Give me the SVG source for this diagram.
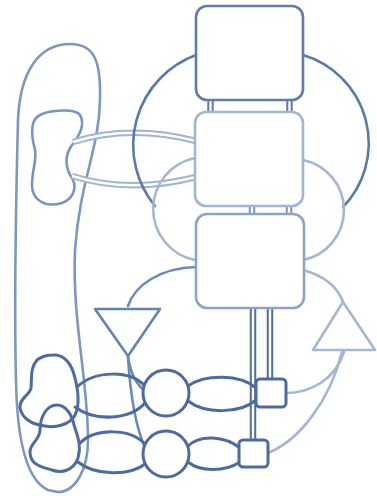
<svg xmlns="http://www.w3.org/2000/svg" width="377" height="496" viewBox="0 0 377 496">
<style>
.n{fill:none;stroke-linejoin:round;stroke-linecap:round}
.box{fill:#fff;stroke-width:2.6}
.e{fill:none;stroke-width:2.6;stroke-linecap:round}
.dk{stroke:#4c6ca1;stroke-width:3}
.dbl{fill:none;stroke-width:6.5}
.gap{fill:none;stroke:#fff;stroke-width:2.4}
</style>
<rect width="377" height="496" fill="#fff"/>
<g id="tall"><path class="n" stroke="#7d97c3" stroke-width="2.6" d="M70,44 C95,44 101,62 100,100 C99,150 80,180 75,250 C72,320 88,380 88,440 C88,470 75,492 58,492 L48,490 C26,480 17,440 16,380 C14,300 16,200 18,120 C20,70 40,44 70,44 Z"/></g>
<g id="smallblob"><path class="n" stroke="#7893c1" stroke-width="2.6" d="M40,115 C50,110 75,108 80,115 C86,125 78,138 72,145 C65,155 65,165 70,175 C78,185 75,198 62,203 C45,208 32,200 32,185 C32,170 37,160 35,150 C31,135 30,120 40,115 Z"/></g>
<g id="connectors">
<path class="dbl" stroke="#9fb3d2" d="M73,142 Q130,124 196,141"/><path class="gap" d="M73,142 Q130,124 196,141"/>
<path class="dbl" stroke="#9fb3d2" d="M72,176 Q130,194 196,177"/><path class="gap" d="M72,176 Q130,194 196,177"/>
<path class="e" stroke="#5b7aac" d="M196,55 A96,96 0 0 0 155,206"/>
<path class="e" stroke="#5b7aac" d="M303,55 A92,92 0 0 1 343,207"/>
<path class="e" stroke="#a3b6d4" d="M195,158 A52,52 0 0 0 195,260"/>
<path class="e" stroke="#a3b6d4" d="M303,160 A51,51 0 0 1 303,260"/>
<path class="e" stroke="#6d8aba" d="M196,267 C160,268 135,285 128,306"/>
<path class="e" stroke="#a3b6d4" d="M303,270 C325,276 338,288 343,302"/>
<path class="e" stroke="#a3b6d4" d="M344,352 C335,380 310,393 286,393"/>
<path class="e" stroke="#a3b6d4" d="M342,352 C330,400 300,440 268,453"/>
<path class="dbl" stroke="#5e7cad" stroke-width="5.5" d="M210.5,100 V113"/><path class="gap" stroke-width="1.8" d="M210.5,100 V113"/>
<path class="dbl" stroke="#5e7cad" stroke-width="5.5" d="M289.5,100 V113"/><path class="gap" stroke-width="1.8" d="M289.5,100 V113"/>
<path class="dbl" stroke="#7d97c3" stroke-width="5.5" d="M252,206 V214"/><path class="gap" stroke-width="1.8" d="M252,206 V214"/>
<path class="dbl" stroke="#7d97c3" stroke-width="5.5" d="M289,206 V214"/><path class="gap" stroke-width="1.8" d="M289,206 V214"/>
<path class="dbl" stroke="#4f6fa4" stroke-width="5" d="M253,307 V441"/><path class="gap" stroke="#c9d4e6" stroke-width="1.2" d="M253,307 V441"/>
<path class="dbl" stroke="#4f6fa4" stroke-width="5" d="M270,307 V380"/><path class="gap" stroke="#c9d4e6" stroke-width="1.2" d="M270,307 V380"/>
<path class="e" stroke="#6a88b9" d="M128,356 C130,372 136,384 145,391"/>
<path class="e" stroke="#6a88b9" d="M128,357 C130,390 135,425 145,448"/>
<path class="e dk" d="M77,387 C95,370 130,370 145,386"/>
<path class="e dk" d="M75,407 C95,422 130,420 145,403"/>
<path class="e dk" d="M188,386 C205,374 240,374 256,388"/>
<path class="e dk" d="M188,401 C205,414 240,414 256,400"/>
<path class="e dk" d="M80,443 C95,428 130,428 145,444"/>
<path class="e dk" d="M78,462 C95,476 130,476 145,464"/>
<path class="e dk" d="M188,446 C200,434 225,436 240,448"/>
<path class="e dk" d="M188,462 C200,472 225,472 240,462"/>
</g>
<g id="box1"><rect class="box" x="196" y="6" width="107" height="94" rx="11" stroke="#5e7cad"/></g>
<g id="box2"><rect class="box" x="195" y="112" width="108" height="94" rx="11" stroke="#a2b5d3"/></g>
<g id="box3"><rect class="box" x="196" y="214" width="108" height="94" rx="11" stroke="#8da4c8"/></g>
<g id="triDown"><path class="n" stroke="#6383b5" stroke-width="2.6" d="M95,309 H160 L128,356 Z"/></g>
<g id="triUp"><path class="n" stroke="#a4b7d4" stroke-width="2.6" d="M343,302 L375,350 H313 Z"/></g>
<g id="blob1"><path class="n" stroke="#4c6ca1" stroke-width="3" d="M53,355 C65,354 72,365 75,378 C78,390 80,405 75,415 C70,425 55,428 45,426 C35,425 22,420 20,408 C19,398 30,395 31,388 C32,378 30,368 37,360 C42,356 47,355 53,355 Z"/></g>
<g id="blob2"><path class="n" stroke="#4c6ca1" stroke-width="3" d="M57,405 C66,405 72,415 74,425 C77,435 82,445 78,458 C74,470 62,474 52,470 C42,467 30,465 30,452 C30,443 40,440 40,430 C40,418 46,405 57,405 Z"/></g>
<g id="circle1"><circle cx="166" cy="393" r="23" fill="#fff" stroke="#4c6ca1" stroke-width="3"/></g>
<g id="circle2"><circle cx="166" cy="454" r="23" fill="#fff" stroke="#4c6ca1" stroke-width="3"/></g>
<g id="sq1"><rect x="256" y="379" width="30" height="28" rx="4" fill="#fff" stroke="#4c6ca1" stroke-width="3"/></g>
<g id="sq2"><rect x="239" y="440" width="29" height="27" rx="4" fill="#fff" stroke="#4c6ca1" stroke-width="3"/></g>
</svg>
